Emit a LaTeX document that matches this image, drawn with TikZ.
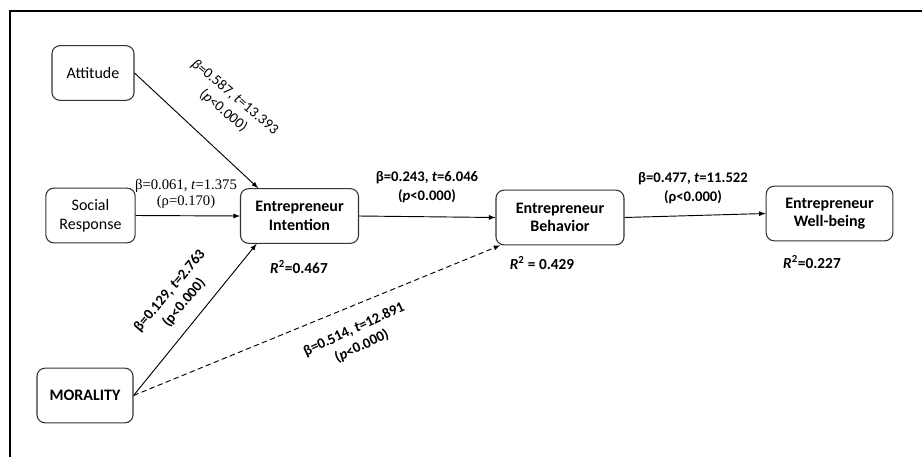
\documentclass[tikz,border=0pt]{standalone}
\usepackage{fontspec}
\setmainfont{Carlito}
\newfontfamily\timesfont{Liberation Serif}

\begin{document}
\begin{tikzpicture}[
        x=0.75pt, y=-0.75pt,
        >=latex,
        font=\fontsize{12}{14}\selectfont,
        var_box/.style={
            draw=black!80,
            rounded corners=6pt,
            line width=0.8pt,
            align=center,
            inner sep=2pt,
            minimum height=41pt
        },
        path_label/.style={
            font=\fontsize{11}{14}\selectfont\bfseries,
            align=center,
            inner sep=1pt
        },
        r2_label/.style={
            font=\fontsize{11.5}{14}\selectfont\bfseries,
            inner sep=1pt
        },
        path_line/.style={
            ->,
            line width=0.7pt
        }
    ]
        \useasboundingbox (0,0) rectangle (922,457);
        \draw[line width=0.8pt] (10,457) -- (10,11) -- (922,11);

        \node[var_box, minimum width=61.5pt] (ATT) at (93,73) {Attitude};
        \node[var_box, minimum width=67pt] (SOC) at (90.5,215.5) {Social\\Response};
        \node[var_box, minimum width=72pt, font=\fontsize{12}{14}\selectfont\bfseries] (MOR) at (85,395.5) {MORALITY};
        \node[var_box, minimum width=88.5pt, font=\fontsize{12}{14}\selectfont\bfseries] (EI) at (299.5,216) {Entrepreneur\\Intention};
        \node[var_box, minimum width=96pt, font=\fontsize{12}{14}\selectfont\bfseries] (EB) at (560,217.5) {Entrepreneur\\Behavior};
        \node[var_box, minimum width=95pt, font=\fontsize{12}{14}\selectfont\bfseries] (EW) at (829.5,213.5) {Entrepreneur\\Well-being};

        \draw[path_line] (ATT.east) -- (EI.146);
        \draw[path_line] (SOC.east) -- (EI.west);
        \draw[path_line] (MOR.east) -- (EI.213);
        \draw[path_line, dash pattern=on 4pt off 2.5pt] (MOR.east) -- (EB.205);
        \draw[path_line] (EI.east) -- (EB.west);
        \draw[path_line] (EB.east) -- (EW.west);

        \node[path_label, font=\fontsize{11}{13.5}\selectfont, rotate=-40] (L_att) at (229,104)
            {\textit{β}=0.587, \textit{t}=13.393\\(\textit{p}<0.000)};
        \node[path_label, font=\fontsize{11}{12.5}\selectfont\timesfont] (L_soc) at (186,194)
            {β=0.061, \textit{t}=1.375\\(ρ=0.170)};
        \node[path_label, rotate=50] (L_mor) at (177,297)
            {β=0.129, \textit{t}=2.763\\(p<0.000)};
        \node[path_label, rotate=25] (L_dir) at (358,338)
            {β=0.514, \textit{t}=12.891\\(\textit{p}<0.000)};
        \node[path_label] (L_ei) at (427,187)
            {β=0.243, \textit{t}=6.046\\(\textit{p}<0.000)};
        \node[path_label] (L_eb) at (693,188)
            {β=0.477, \textit{t}=11.522\\(ρ<0.000)};

        \node[r2_label] (R_ei) at (299,267) {\textit{R}\textsuperscript{2}=0.467};
        \node[r2_label] (R_eb) at (542,263) {\textit{R}\textsuperscript{2} = 0.429};
        \node[r2_label] (R_ew) at (812,262) {\textit{R}\textsuperscript{2}=0.227};

    \end{tikzpicture}
\end{document}
